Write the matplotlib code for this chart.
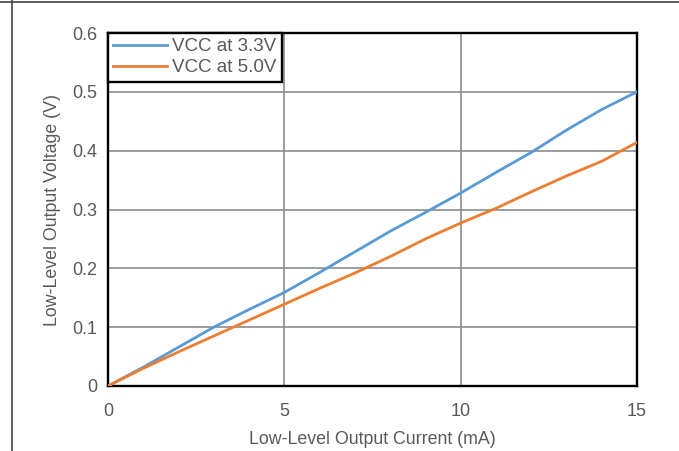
import matplotlib
matplotlib.use("Agg")
import matplotlib.pyplot as plt
from matplotlib.lines import Line2D
from matplotlib.ticker import FuncFormatter

plt.rcParams['font.family'] = ['Liberation Sans', 'DejaVu Sans']

# low-level output current (mA)
current = [0, 1, 2, 3, 4, 5, 6, 7, 8, 9, 10, 11, 12, 13, 14, 15]
# output voltage (V)
vol_33 = [0, 0.032, 0.066, 0.100, 0.130, 0.159, 0.193, 0.228, 0.263, 0.295,
          0.328, 0.363, 0.397, 0.435, 0.470, 0.500]
vol_50 = [0, 0.030, 0.058, 0.085, 0.112, 0.139, 0.166, 0.192, 0.220, 0.250,
          0.277, 0.302, 0.330, 0.357, 0.382, 0.414]
labels = ["VCC at 3.3V", "VCC at 5.0V"]

fig = plt.figure(figsize=(6.79, 4.51), dpi=100)
ax = fig.add_axes([108/679, 1 - 386/451, (637 - 108)/679, (386 - 33)/451])

ax.plot(current, vol_33, color='#5B9BD5', lw=2.0, label=labels[0], zorder=3)
ax.plot(current, vol_50, color='#ED7D31', lw=2.0, label=labels[1], zorder=3)

ax.set_xlim(0, 15)
ax.set_ylim(0, 0.6)
ax.set_xticks([0, 5, 10, 15])
ax.set_yticks([0, 0.1, 0.2, 0.3, 0.4, 0.5, 0.6])
ax.yaxis.set_major_formatter(FuncFormatter(lambda v, p: "0" if v == 0 else f"{v:.1f}"))
ax.grid(True, color='#8c8c8c', lw=1.2, zorder=0)
ax.set_axisbelow(True)
ax.tick_params(length=0, labelsize=13, labelcolor='#595959')
ax.tick_params(axis='y', pad=8)
ax.tick_params(axis='x', pad=12)
for s in ax.spines.values():
    s.set_color('black')
    s.set_linewidth(1.7)

ax.set_xlabel("Low-Level Output Current (mA)", fontsize=12.8, color='#595959', labelpad=8)
ax.set_ylabel("Low-Level Output Voltage (V)", fontsize=12.8, color='#595959', labelpad=8)

leg = ax.legend(loc='upper left', bbox_to_anchor=(0, 1), borderaxespad=0,
                fancybox=False, framealpha=1, edgecolor='black', fontsize=13.5,
                handlelength=2.85, handletextpad=0.3, borderpad=0.28, labelspacing=0.2)
leg.get_frame().set_linewidth(1.7)
for t in leg.get_texts():
    t.set_color('#595959')
leg.set_zorder(5)

# outer page frame (top and left edges)
fig.add_artist(Line2D([0, 1], [1 - 1.5/451, 1 - 1.5/451], color='#444444', lw=1.2))
fig.add_artist(Line2D([12/679, 12/679], [0, 1], color='#444444', lw=1.2))

fig.savefig("out.png", dpi=100)
